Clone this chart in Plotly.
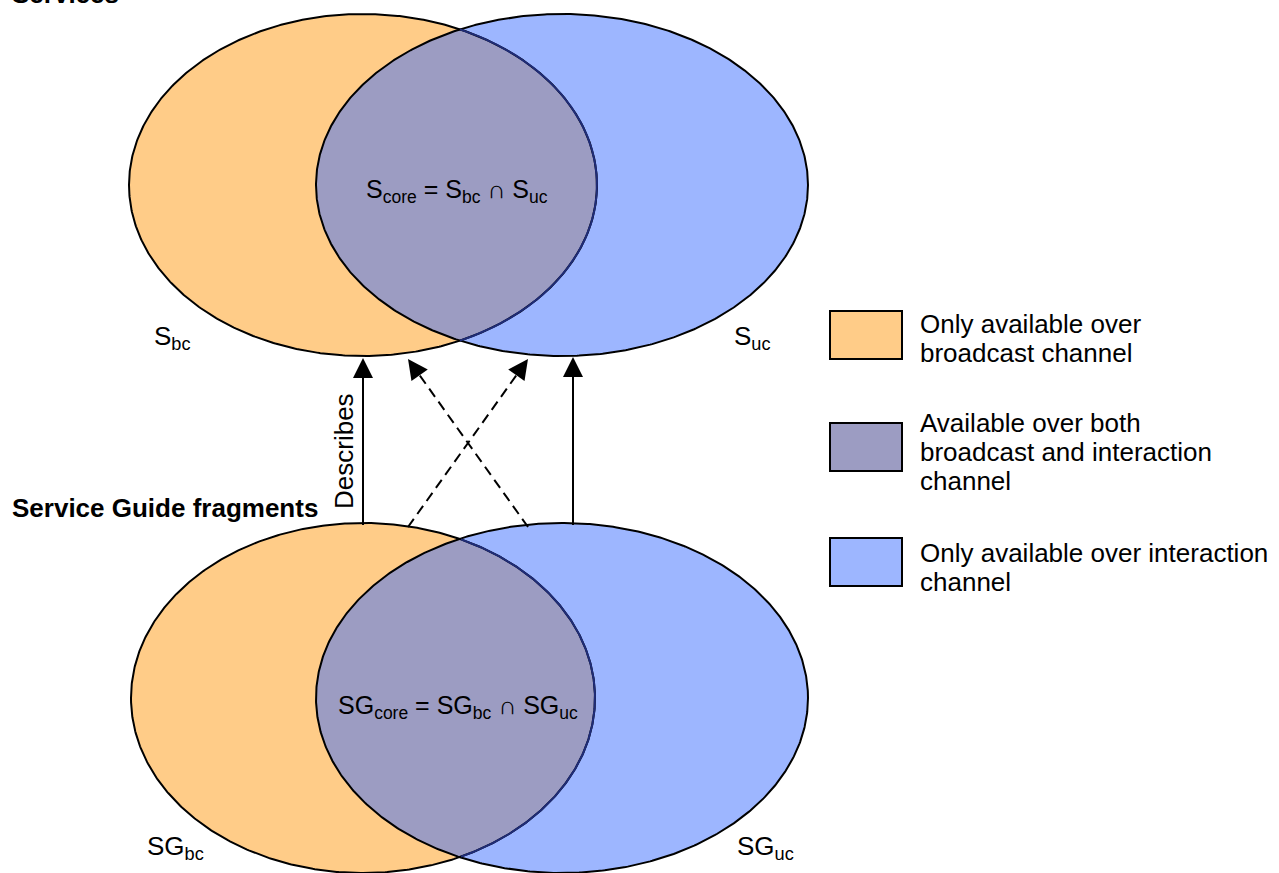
import numpy as np
import plotly.graph_objects as go

# canvas is laid out in pixel units (x right, y down)
W, H = 1279, 873

# sets: broadcast (orange) and interaction (blue), for services (top) and SG fragments (bottom)
SET_LABELS = ["S<sub>bc</sub>", "S<sub>uc</sub>", "SG<sub>bc</sub>", "SG<sub>uc</sub>"]
SET_CX = [363, 562, 363, 562]
SET_CY = [185, 185, 698, 698]
SET_RX = [234, 246, 232, 246]
SET_RY = [171, 171, 175, 175]
LABEL_X = [172, 752, 175, 765]
LABEL_Y = [337, 337, 847, 847]

CORE_LABELS = [
    "S<sub>core</sub> = S<sub>bc</sub> \u2229 S<sub>uc</sub>",
    "SG<sub>core</sub> = SG<sub>bc</sub> \u2229 SG<sub>uc</sub>",
]
CORE_X = [457, 458]
CORE_Y = [191, 707]

GROUP_TITLES = ["<b>Services</b>", "<b>Service Guide fragments</b>"]
GROUP_TITLE_Y = [-6, 508]

# "Describes" arrows from SG fragments up to services
ARROW_TAIL_X = [363, 408, 528, 573]
ARROW_TAIL_Y = [525, 527, 527, 525]
ARROW_HEAD_X = [363, 528, 408, 573]
ARROW_HEAD_Y = [358, 359, 359, 357]
ARROW_DASH = ["solid", "10px,6px", "10px,6px", "solid"]

LEGEND_TEXT = [
    ["Only available over", "broadcast channel"],
    ["Available over both", "broadcast and interaction", "channel"],
    ["Only available over interaction", "channel"],
]
LEGEND_BOX_TOP = [311, 423, 538]
LEGEND_FIRST_LINE = [324, 423, 553]

ORANGE = "#FFCC88"
BLUE = "#9DB6FF"
CORE = "#9C9CC2"
NAVY = "#1F2C78"
LEGEND_COLORS = [ORANGE, CORE, BLUE]

FONT = "Liberation Sans, Arial, sans-serif"
TXT = dict(size=26, color="black", family=FONT)


def ellipse(cx, cy, rx, ry, start):
    t = np.linspace(start, start + 2 * np.pi, 721)
    return cx + rx * np.cos(t), cy + ry * np.sin(t)


def inside(x, y, cx, cy, rx, ry):
    return ((x - cx) / rx) ** 2 + ((y - cy) / ry) ** 2 <= 1


fig = go.Figure()

for k in (0, 2):
    bc = (SET_CX[k], SET_CY[k], SET_RX[k], SET_RY[k])
    uc = (SET_CX[k + 1], SET_CY[k + 1], SET_RX[k + 1], SET_RY[k + 1])
    bx, by = ellipse(*bc, -np.pi)
    ux, uy = ellipse(*uc, 0)
    # fills
    fig.add_trace(go.Scatter(x=bx, y=by, mode="lines", fill="toself", fillcolor=ORANGE,
                             line=dict(width=0), hoverinfo="skip"))
    fig.add_trace(go.Scatter(x=ux, y=uy, mode="lines", fill="toself", fillcolor=BLUE,
                             line=dict(width=0), hoverinfo="skip"))
    # intersection region
    m1 = inside(bx, by, *uc)
    m2 = inside(ux, uy, *bc)
    ix = np.concatenate([bx[m1], ux[m2]])
    iy = np.concatenate([by[m1], uy[m2]])
    fig.add_trace(go.Scatter(x=ix, y=iy, mode="lines", fill="toself", fillcolor=CORE,
                             line=dict(width=0), hoverinfo="skip"))
    # outlines
    fig.add_trace(go.Scatter(x=bx, y=by, mode="lines", line=dict(color="black", width=2),
                             hoverinfo="skip"))
    fig.add_trace(go.Scatter(x=ux, y=uy, mode="lines", line=dict(color="black", width=2),
                             hoverinfo="skip"))
    fig.add_trace(go.Scatter(x=bx[m1], y=by[m1], mode="lines", line=dict(color=NAVY, width=2),
                             hoverinfo="skip"))

annotations = []

# arrows
for tx, ty, hx, hy, dash in zip(ARROW_TAIL_X, ARROW_TAIL_Y, ARROW_HEAD_X, ARROW_HEAD_Y, ARROW_DASH):
    dx, dy = hx - tx, hy - ty
    n = np.hypot(dx, dy)
    bx_, by_ = hx - dx / n * 18, hy - dy / n * 18
    fig.add_trace(go.Scatter(x=[tx, bx_], y=[ty, by_], mode="lines",
                             line=dict(color="black", width=2, dash=dash), hoverinfo="skip"))
    annotations.append(dict(x=hx, y=hy, ax=bx_, ay=by_, xref="x", yref="y", axref="x", ayref="y",
                            text="", showarrow=True, arrowhead=2, arrowsize=2.0, arrowwidth=2,
                            arrowcolor="black", standoff=0, startstandoff=0))

annotations.append(dict(x=344, y=451, xref="x", yref="y", text="Describes", textangle=-90,
                        showarrow=False, font=TXT))

for txt, x, y in zip(SET_LABELS, LABEL_X, LABEL_Y):
    annotations.append(dict(x=x, y=y, xref="x", yref="y", text=txt, showarrow=False, font=TXT))

for txt, x, y in zip(CORE_LABELS, CORE_X, CORE_Y):
    annotations.append(dict(x=x, y=y, xref="x", yref="y", text=txt, showarrow=False,
                            font=dict(TXT, size=25)))

# group titles in paper units ("Services" sits mostly above the top edge, as in the source)
for txt, y in zip(GROUP_TITLES, GROUP_TITLE_Y):
    annotations.append(dict(x=10 / W, y=1 - y / H, xref="paper", yref="paper", text=txt,
                            showarrow=False, xanchor="left", yanchor="middle", font=TXT))

# legend
shapes = []
for top, color, lines, y0 in zip(LEGEND_BOX_TOP, LEGEND_COLORS, LEGEND_TEXT, LEGEND_FIRST_LINE):
    shapes.append(dict(type="rect", xref="x", yref="y", x0=830, x1=902, y0=top, y1=top + 48,
                       fillcolor=color, line=dict(color="black", width=2), layer="above"))
    for i, line in enumerate(lines):
        annotations.append(dict(x=918, y=y0 + i * 29, xref="x", yref="y", text=line,
                                showarrow=False, xanchor="left", font=TXT))

fig.update_layout(
    width=W, height=H,
    margin=dict(l=0, r=0, t=0, b=0),
    paper_bgcolor="white", plot_bgcolor="white",
    showlegend=False,
    xaxis=dict(range=[0, W], visible=False, fixedrange=True),
    yaxis=dict(range=[H, 0], visible=False, fixedrange=True),
    annotations=annotations,
    shapes=shapes,
)

fig.write_html("out.html", config={"displayModeBar": False},
               post_script="document.body.style.margin='0';")
